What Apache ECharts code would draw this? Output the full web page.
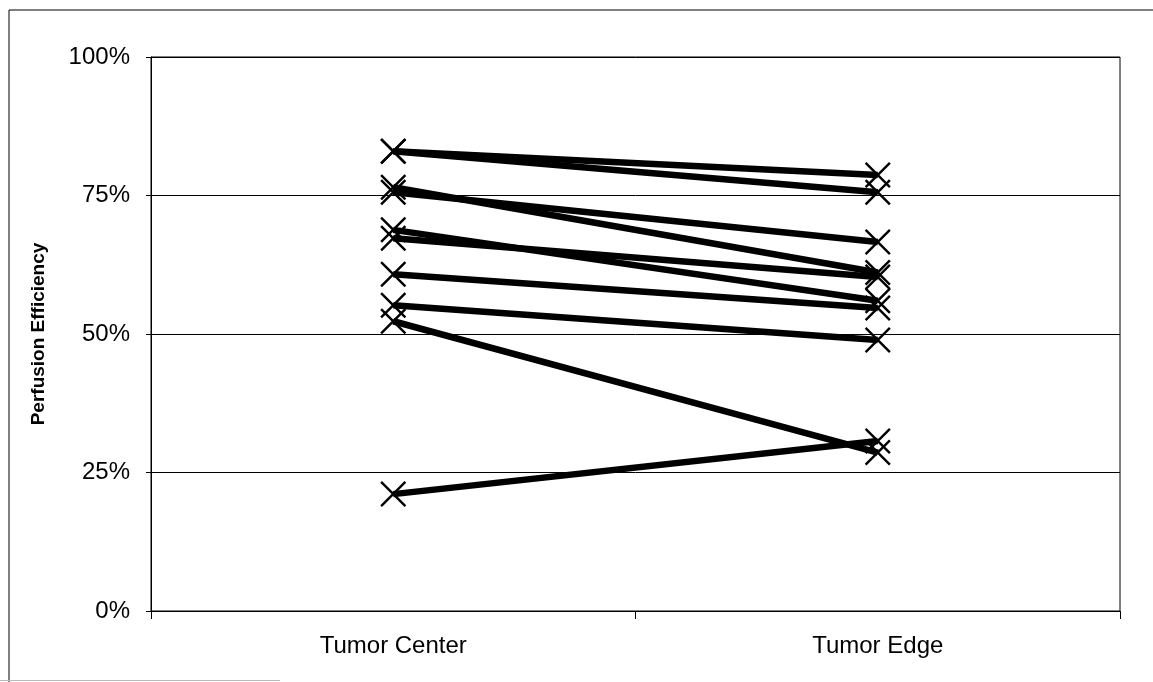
<!DOCTYPE html>
<html>
<head>
<meta charset="utf-8">
<script src="https://cdn.jsdelivr.net/npm/echarts@6/dist/echarts.min.js"></script>
<style>
html,body{margin:0;padding:0;background:#fff;}
#chart{width:1153px;height:682px;}
</style>
</head>
<body>
<div id="chart"></div>
<script>
const categories = ['Tumor Center', 'Tumor Edge'];
const centerValues = [83.0, 83.0, 76.5, 75.6, 68.8, 67.3, 60.8, 55.2, 52.3, 21.1];
const edgeValues = [78.7, 75.6, 61.1, 66.6, 56.0, 60.3, 54.7, 48.9, 28.6, 30.7];
const yTickValues = [0, 25, 50, 75, 100];
const yAxisTitle = 'Perfusion Efficiency';

const FONT = '"Liberation Sans", Arial, sans-serif';
const xMark = 'path://M0,1.6L1.6,0L12,10.4L22.4,0L24,1.6L13.6,12L24,22.4L22.4,24L12,13.6L1.6,24L0,22.4L10.4,12Z';

const series = centerValues.map((c, i) => ({
  type: 'line',
  data: [c, edgeValues[i]],
  symbol: xMark,
  symbolSize: 26,
  showSymbol: true,
  lineStyle: { color: '#000', width: 6.5 },
  itemStyle: { color: '#000' },
  z: 3
}));

const chart = echarts.init(document.getElementById('chart'), null, { renderer: 'canvas' });
chart.setOption({
  animation: false,
  backgroundColor: '#fff',
  grid: {
    left: 151, right: 33, top: 57, bottom: 71,
    show: true, borderColor: '#000', borderWidth: 1,
    containLabel: false, outerBoundsMode: 'none'
  },
  graphic: [
    { type: 'line', shape: { x1: 9, y1: 10, x2: 1153, y2: 10 }, style: { stroke: '#000', lineWidth: 1 } },
    { type: 'line', shape: { x1: 9, y1: 10, x2: 9, y2: 682 }, style: { stroke: '#000', lineWidth: 1 } },
    { type: 'line', shape: { x1: 0, y1: 680.5, x2: 280, y2: 680.5 }, style: { stroke: '#bbb', lineWidth: 1 } }
  ],
  xAxis: {
    type: 'category',
    data: categories,
    boundaryGap: true,
    axisLine: { show: true, lineStyle: { color: '#000', width: 1 } },
    axisTick: { show: true, alignWithLabel: false, length: 8, lineStyle: { color: '#000' } },
    axisLabel: { color: '#000', fontFamily: FONT, fontSize: 24, margin: 23 },
    splitLine: { show: false }
  },
  yAxis: {
    type: 'value',
    min: yTickValues[0],
    max: yTickValues[yTickValues.length - 1],
    interval: 25,
    name: yAxisTitle,
    nameLocation: 'middle',
    nameGap: 103,
    nameRotate: 90,
    nameTextStyle: { color: '#000', fontFamily: FONT, fontSize: 19, fontWeight: 'bold' },
    axisLine: { show: true, lineStyle: { color: '#000', width: 1 } },
    axisTick: { show: true, length: 5, lineStyle: { color: '#000' } },
    axisLabel: { color: '#000', fontFamily: FONT, fontSize: 24, margin: 21, formatter: '{value}%' },
    splitLine: { show: true, lineStyle: { color: '#000', width: 1 } }
  },
  series: series
});
</script>
</body>
</html>
